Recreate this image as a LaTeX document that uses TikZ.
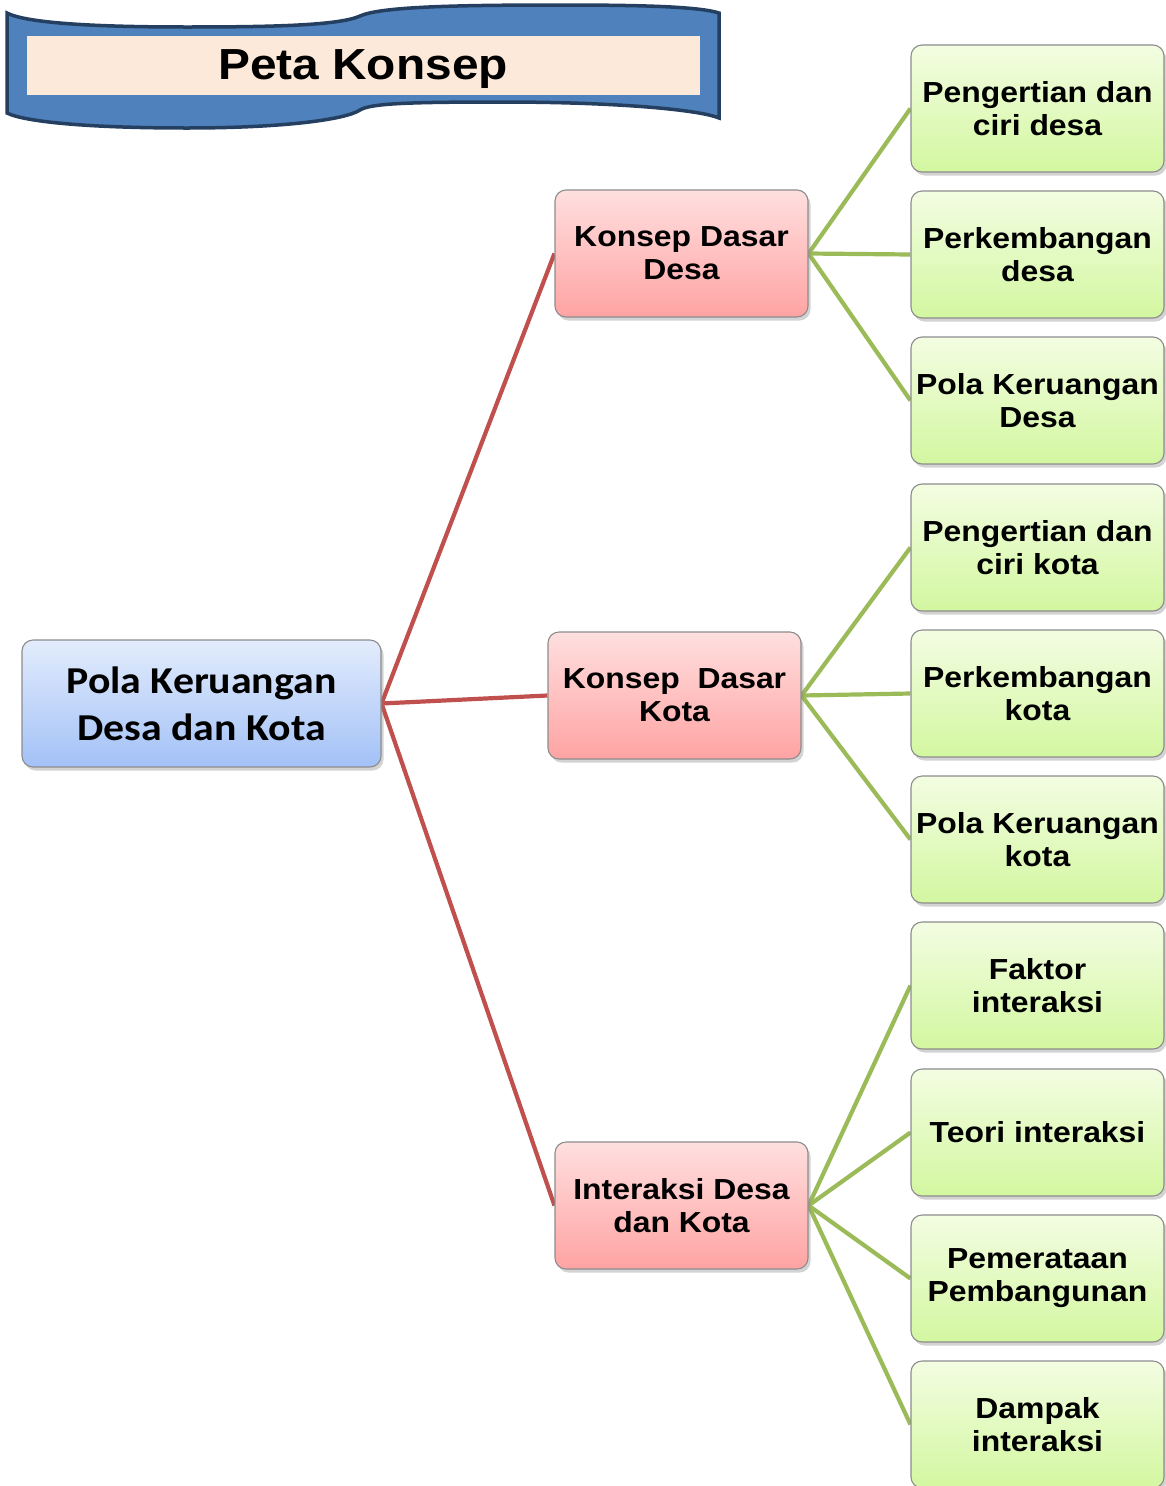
\documentclass[tikz,border=0pt]{standalone}
\usepackage{fontspec}
\setmainfont{Liberation Sans}[FakeStretch=1.1]
\newfontfamily\calfont{Carlito}[FakeStretch=1.1]
\usetikzlibrary{shadows}
\pgfdeclarelayer{bg}
\pgfsetlayers{bg,main}
\definecolor{linkred}{HTML}{C0504D}
\definecolor{linkgreen}{HTML}{9BBB59}
\definecolor{bannerfill}{HTML}{4F81BD}
\definecolor{bannerline}{HTML}{243F60}
\definecolor{titlefill}{HTML}{FDE9D9}
\definecolor{roottop}{HTML}{E2ECFC}
\definecolor{rootbot}{HTML}{A3C1F7}
\definecolor{midtop}{HTML}{FFDFDF}
\definecolor{midbot}{HTML}{FFA3A3}
\definecolor{leaftop}{HTML}{F3FDE2}
\definecolor{leafbot}{HTML}{D3F7A0}
\tikzset{
    box/.style={rectangle, rounded corners=11pt, draw=black!45, line width=1.1pt,
    	minimum width=253pt, minimum height=127pt, inner sep=0pt, align=center,
    	drop shadow={shadow xshift=2.5pt, shadow yshift=-3.5pt, opacity=.35},
    	font=\bfseries\fontsize{29}{33}\selectfont},
    rootbox/.style={box, minimum width=359pt, top color=roottop,
    	bottom color=rootbot,
    	font=\calfont\bfseries\fontsize{38}{46.7}\selectfont},
    midbox/.style={box, top color=midtop, bottom color=midbot},
    leafbox/.style={box, top color=leaftop, bottom color=leafbot},
    redlink/.style={draw=linkred, line width=4.2pt},
    greenlink/.style={draw=linkgreen, line width=4.2pt}
}

\begin{document}
\begin{tikzpicture}[x=1pt, y=-1pt]
	\useasboundingbox (0,0) rectangle (1165,1486);
	% banner
	\draw[fill=bannerfill, draw=bannerline, line width=3.5pt]
		(7,13) .. controls (30,25) and (120,27) .. (187,27)
		.. controls (280,27) and (340,25) .. (360,16)
		.. controls (380,7) and (450,5) .. (560,5)
		.. controls (650,5) and (700,7) .. (719,13) -- (719,118)
		.. controls (700,110) and (620,102) .. (500,102)
		.. controls (400,102) and (370,104) .. (360,110)
		.. controls (345,120) and (280,128) .. (187,128)
		.. controls (90,128) and (25,122) .. (7,113) -- cycle;
	\fill[titlefill] (27,36) rectangle (700,95);
	\node [font=\bfseries\fontsize{43.5}{50}\selectfont] (title) at (363,69) {Peta Konsep};
	% nodes
	\node [rootbox] (root) at (201.5,703.5) {Pola Keruangan\\Desa dan Kota};
	\node [midbox] (desa) at (681.5,253.5) {Konsep Dasar\\Desa};
	\node [midbox] (kota) at (674.5,695.5) {Konsep\ \ Dasar\\Kota};
	\node [midbox] (inter) at (681.5,1205.5) {Interaksi Desa\\dan Kota};
	\node [leafbox] (d1) at (1037.5,108.5) {Pengertian dan\\ciri desa};
	\node [leafbox] (d2) at (1037.5,254.5) {Perkembangan\\desa};
	\node [leafbox] (d3) at (1037.5,400.5) {Pola Keruangan\\Desa};
	\node [leafbox] (k1) at (1037.5,547.5) {Pengertian dan\\ciri kota};
	\node [leafbox] (k2) at (1037.5,693.5) {Perkembangan\\kota};
	\node [leafbox] (k3) at (1037.5,839.5) {Pola Keruangan\\kota};
	\node [leafbox] (i1) at (1037.5,985.5) {Faktor\\interaksi};
	\node [leafbox] (i2) at (1037.5,1132.5) {Teori interaksi};
	\node [leafbox] (i3) at (1037.5,1278.5) {Pemerataan\\Pembangunan};
	\node [leafbox] (i4) at (1037.5,1424.5) {Dampak\\interaksi};
	% links
	\begin{pgfonlayer}{bg}
	\draw [redlink] (root.east) -- (desa.west);
	\draw [redlink] (root.east) -- (kota.west);
	\draw [redlink] (root.east) -- (inter.west);
	\draw [greenlink] (desa.east) -- (d1.west);
	\draw [greenlink] (desa.east) -- (d2.west);
	\draw [greenlink] (desa.east) -- (d3.west);
	\draw [greenlink] (kota.east) -- (k1.west);
	\draw [greenlink] (kota.east) -- (k2.west);
	\draw [greenlink] (kota.east) -- (k3.west);
	\draw [greenlink] (inter.east) -- (i1.west);
	\draw [greenlink] (inter.east) -- (i2.west);
	\draw [greenlink] (inter.east) -- (i3.west);
	\draw [greenlink] (inter.east) -- (i4.west);
	\end{pgfonlayer}
\end{tikzpicture}
\end{document}
